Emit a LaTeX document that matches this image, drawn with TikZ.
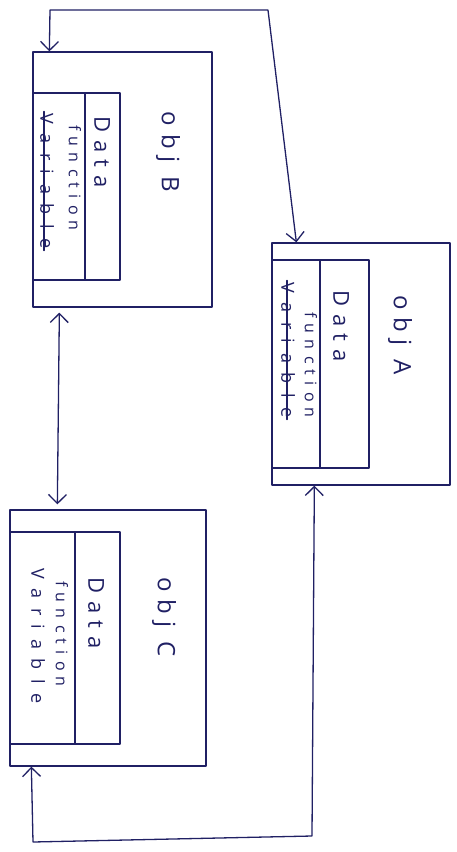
\documentclass[tikz,border=0pt]{standalone}
\usepackage{fontspec}
\setmainfont{Open Sans}
\usetikzlibrary{arrows.meta}
\definecolor{ink}{RGB}{32,32,100}
\begin{document}
\begin{tikzpicture}[x=1pt, y=-1pt, line join=round, line cap=round, >={Straight Barb[length=9pt,width=18pt]},
	objbox/.style={draw=ink, line width=1.3pt, inner sep=0pt},
	link/.style={draw=ink, line width=1.3pt},
	strike/.style={draw=ink, line width=1.2pt},
	objtext/.style={text=ink, rotate=-90, inner sep=0pt, font=\fontsize{24}{24}\selectfont\addfontfeatures{LetterSpace=32}},
	datatext/.style={text=ink, rotate=-90, inner sep=0pt, font=\fontsize{22}{22}\selectfont\addfontfeatures{LetterSpace=34}},
	funtext/.style={text=ink, rotate=-90, inner sep=0pt, font=\fontsize{16}{16}\selectfont\addfontfeatures{LetterSpace=39}},
	vartext/.style={text=ink, rotate=-90, inner sep=0pt, font=\fontsize{18}{18}\selectfont\addfontfeatures{LetterSpace=53}}]
	\useasboundingbox (0,0) rectangle (456,852);
	% obj B
	\node[objbox, minimum width=179pt, minimum height=255pt] (objB) at (122.5,179.5) {};
	\node[objbox, minimum width=52pt, minimum height=187pt] (memB) at (59,186.5) {};
	\node[objbox, minimum width=35pt, minimum height=187pt] (dataB) at (102.5,186.5) {};
	\node[objtext] (nameB) at (168,152) {obj B};
	\node[datatext] (dB) at (102,152) {Data};
	\node[funtext] (fB) at (75,178) {function};
	\node[vartext] (vB) at (47,181) {Variable};
	\draw[strike] ([xshift=-3pt,yshift=2pt]vB.west) -- ([xshift=-3pt,yshift=-2pt]vB.east);
	% obj A
	\node[objbox, minimum width=178pt, minimum height=242pt] (objA) at (361,364) {};
	\node[objbox, minimum width=48pt, minimum height=208pt] (memA) at (296,364) {};
	\node[objbox, minimum width=49pt, minimum height=208pt] (dataA) at (344.5,364) {};
	\node[objtext] (nameA) at (400,335) {obj A};
	\node[datatext] (dA) at (341,326) {Data};
	\node[funtext] (fA) at (311,365) {function};
	\node[vartext] (vA) at (288,350) {Variable};
	\draw[strike] ([xshift=-1pt,yshift=2pt]vA.west) -- ([xshift=-1pt,yshift=-2pt]vA.east);
	% obj C
	\node[objbox, minimum width=196pt, minimum height=256pt] (objC) at (108,638) {};
	\node[objbox, minimum width=65pt, minimum height=212pt] (memC) at (42.5,638) {};
	\node[objbox, minimum width=45pt, minimum height=212pt] (dataC) at (97.5,638) {};
	\node[objtext] (nameC) at (164,617) {obj C};
	\node[datatext] (dC) at (96,613) {Data};
	\node[funtext] (fC) at (62,634) {function};
	\node[vartext] (vC) at (38,636) {Variable};
	% links
	\coordinate (topL) at (50,10);
	\coordinate (topR) at (268,10);
	\coordinate (botR) at (312,836);
	\coordinate (botL) at (33,842);
	\draw[link, <->] ([xshift=17pt]objB.north west) -- (topL) -- (topR) -- ([xshift=25pt]objA.north west);
	\draw[link, <->] ([xshift=27pt,yshift=-5pt]objB.south west) -- ([xshift=48pt,yshift=5pt]objC.north west);
	\draw[link, <->] ([xshift=43pt]objA.south west) -- (botR) -- (botL) -- ([xshift=22pt]objC.south west);
\end{tikzpicture}
\end{document}
